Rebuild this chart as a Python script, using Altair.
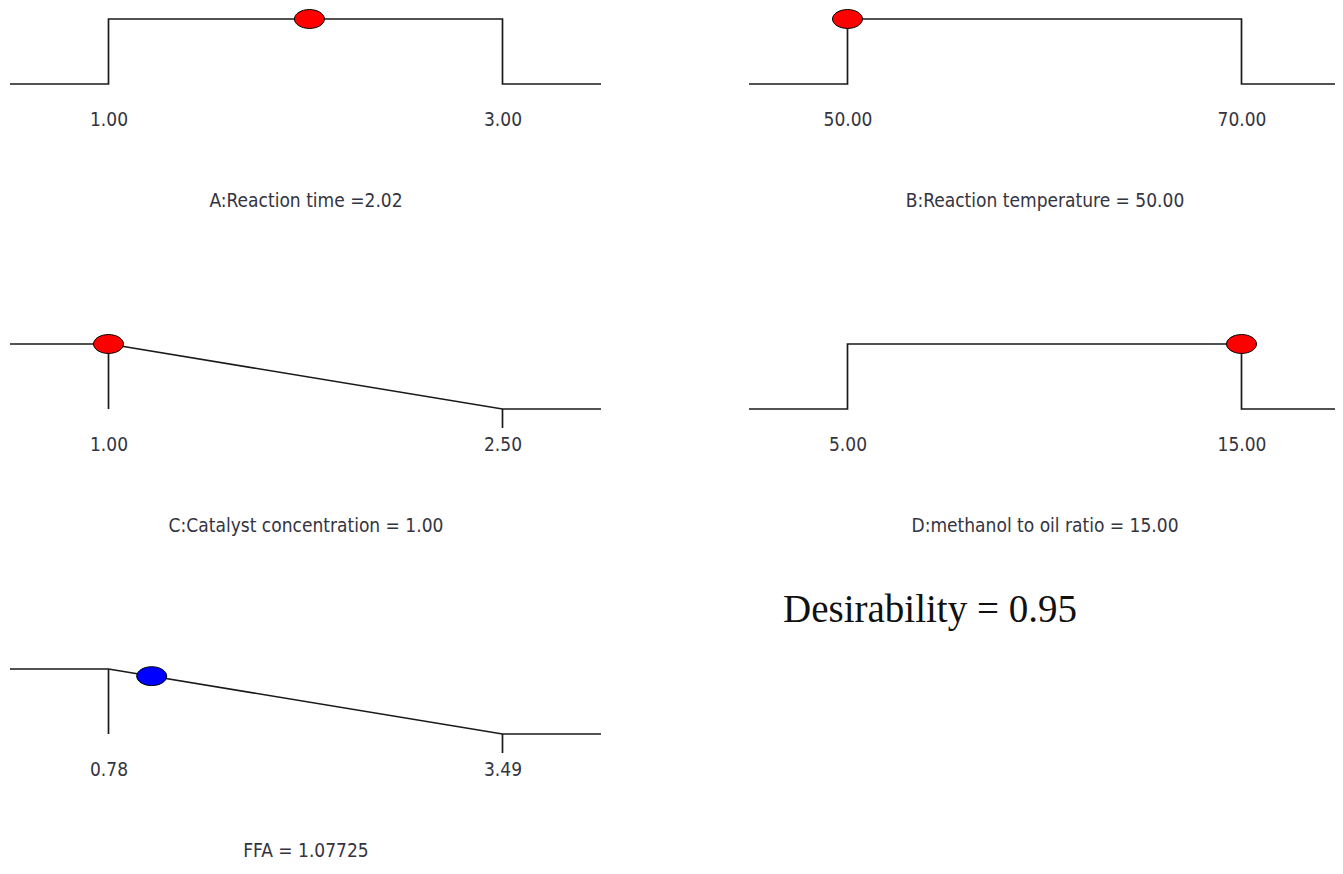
import altair as alt
import pandas as pd

# ---- data ----
factors = ["A:Reaction time", "B:Reaction temperature", "C:Catalyst concentration",
           "D:methanol to oil ratio", "FFA"]
low = [1.00, 50.00, 1.00, 5.00, 0.78]
high = [3.00, 70.00, 2.50, 15.00, 3.49]
setting = [2.02, 50.00, 1.00, 15.00, 1.07725]
setting_text = ["2.02", "50.00", "1.00", "15.00", "1.07725"]
caption_sep = [" =", " = ", " = ", " = ", " = "]
goal = ["range", "range", "minimize", "range", "minimize"]
dot_desirability = [1.0, 1.0, 1.0, 1.0, 0.89]
dot_color = ["#ff0000", "#ff0000", "#ff0000", "#ff0000", "#0000ff"]
overall_label = ["Desirability = 0.95"]

# ---- style ----
W, H = 591, 65
NARROW = "DejaVu Sans Condensed, Liberation Sans Narrow, Arial Narrow, sans-serif"
FS = 19
TXT = "#34343f"
LINE = "#1a1a1a"
ELLIPSE = ("M-1,0 C-1,-0.348 -0.552,-0.63 0,-0.63 C0.552,-0.63 1,-0.348 1,0 "
           "C1,0.348 0.552,0.63 0,0.63 C-0.552,0.63 -1,0.348 -1,0 Z")


def panel(i):
    lo, hi = low[i], high[i]
    r = hi - lo
    xmin, xmax = lo - 0.25 * r, hi + 0.25 * r
    if goal[i] == "range":
        xs = [xmin, lo, lo, hi, hi, xmax]
        ds = [0, 0, 1, 1, 0, 0]
    else:
        xs = [xmin, lo, hi, xmax]
        ds = [1, 1, 0, 0]
    df_line = pd.DataFrame({"x": xs, "d": ds, "order": list(range(len(xs)))})

    xscale = alt.Scale(domain=[xmin, xmax], nice=False, zero=False)
    yscale = alt.Scale(domain=[0, 1], nice=False, zero=False)
    caption = factors[i] + caption_sep[i] + setting_text[i]
    xaxis = alt.Axis(values=[lo, hi], format=".2f", title=caption,
                     domain=False, ticks=False, grid=False,
                     labelFont=NARROW, labelFontSize=FS, labelColor=TXT,
                     labelPadding=41, labelBaseline="alphabetic", labelFlush=False,
                     titleFont=NARROW, titleFontSize=FS, titleFontWeight="normal",
                     titleColor=TXT, titleX=W / 2, titleY=122,
                     titleBaseline="alphabetic", titleAlign="center")
    X = alt.X("x:Q", scale=xscale, axis=xaxis)
    Y = alt.Y("d:Q", scale=yscale, axis=None)

    layers = [
        alt.Chart(df_line).mark_line(color=LINE, strokeWidth=1.7).encode(
            x=X, y=Y, order="order:Q")
    ]
    if goal[i] == "minimize":
        df_rule = pd.DataFrame({"x": [lo], "d": [0], "d2": [1]})
        layers.append(alt.Chart(df_rule).mark_rule(color=LINE, strokeWidth=1.7).encode(
            x=X, y=Y, y2="d2:Q"))
        df_tick = pd.DataFrame({"x": [hi], "d": [0]})
        layers.append(alt.Chart(df_tick).mark_rule(color=LINE, strokeWidth=1.7).encode(
            x=X, y=Y, y2=alt.value(H + 19)))
    df_dot = pd.DataFrame({"x": [setting[i]], "d": [dot_desirability[i]]})
    layers.append(alt.Chart(df_dot).mark_point(
        shape=ELLIPSE, size=900, filled=True, fill=dot_color[i], stroke="black",
        strokeWidth=1, opacity=1).encode(x=X, y=Y))
    if i == 3:
        df_t = pd.DataFrame({"label": overall_label})
        layers.append(alt.Chart(df_t).mark_text(
            font="Liberation Serif, Times New Roman, serif", fontSize=39,
            align="center", baseline="alphabetic", color="#111111").encode(
            text="label:N", x=alt.value(181), y=alt.value(278)))
    return alt.layer(*layers).properties(width=W, height=H)


chart = alt.concat(*[panel(i) for i in range(5)], columns=2,
                   spacing={"row": 260, "column": 148}, bounds="flush").properties(
    autosize=alt.AutoSizeParams(type="none"),
    padding={"left": 2, "top": 11, "right": 1325, "bottom": 842},
    background="white",
).configure_view(stroke=None)

chart.save("out.html", embed_options={"renderer": "svg", "actions": False})
